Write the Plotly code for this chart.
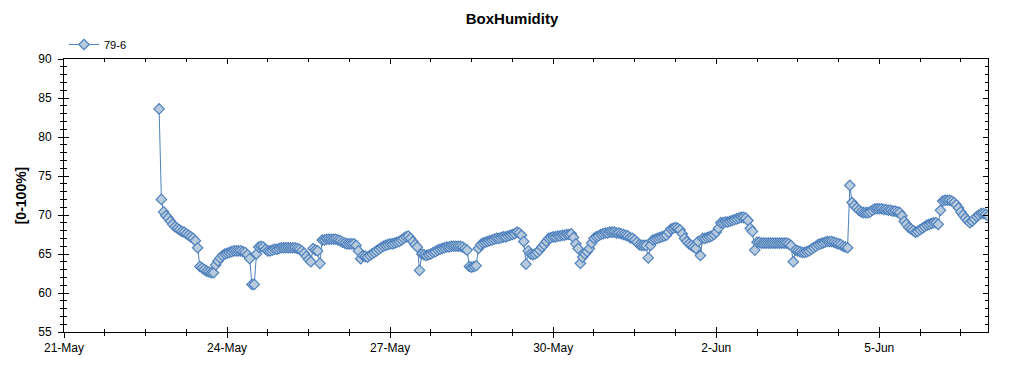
import pandas as pd
import plotly.graph_objects as go

series_name = "79-6"
chart_title = "BoxHumidity"
y_title = "[0-100%]"

# hourly readings, first reading at 22-May 18:00
start_time = "2023-05-22 18:00"
may22 = [83.6, 72.0, 70.4, 69.9, 69.6, 69.2]
may23 = [68.8, 68.5, 68.3, 68.1, 67.9, 67.8, 67.6, 67.4, 67.2, 67.0, 66.7, 65.8,
         63.4, 63.2, 63.0, 62.8, 62.7, 62.6, 62.6, 63.6, 64.1, 64.5, 64.8, 65.0]
may24 = [65.1, 65.2, 65.3, 65.4, 65.4, 65.4, 65.4, 65.3, 65.2, 64.9, 64.4, 61.1,
         61.1, 65.0, 65.9, 66.0, 65.9, 65.6, 65.4, 65.4, 65.5, 65.6, 65.6, 65.7]
may25 = [65.8, 65.8, 65.8, 65.8, 65.8, 65.8, 65.8, 65.7, 65.6, 65.4, 65.1, 64.7,
         64.3, 64.0, 65.7, 65.5, 65.4, 63.8, 66.8, 66.8, 66.9, 66.9, 66.9, 66.9]
may26 = [66.9, 66.8, 66.7, 66.5, 66.4, 66.3, 66.3, 66.3, 66.3, 66.1, 65.4, 64.4,
         64.8, 64.7, 64.6, 64.8, 65.0, 65.2, 65.4, 65.6, 65.8, 66.0, 66.1, 66.2]
may27 = [66.3, 66.3, 66.4, 66.5, 66.6, 66.8, 67.0, 67.2, 67.3, 67.0, 66.6, 66.2,
         65.9, 62.9, 65.0, 64.9, 64.8, 64.9, 65.0, 65.2, 65.3, 65.5, 65.6, 65.7]
may28 = [65.8, 65.9, 65.9, 66.0, 66.0, 66.0, 66.0, 66.0, 65.9, 65.7, 65.5, 63.4,
         63.3, 63.4, 63.5, 65.7, 66.2, 66.4, 66.5, 66.6, 66.7, 66.8, 66.9, 67.0]
may29 = [67.0, 67.1, 67.2, 67.2, 67.3, 67.4, 67.5, 67.6, 67.8, 67.7, 67.4, 66.6,
         63.7, 65.4, 65.0, 64.9, 65.0, 65.2, 65.5, 65.9, 66.2, 66.6, 67.0, 67.1]
may30 = [67.2, 67.2, 67.3, 67.3, 67.4, 67.4, 67.5, 67.5, 67.6, 67.1, 66.3, 65.7,
         63.8, 64.6, 65.0, 65.3, 65.7, 66.4, 67.0, 67.2, 67.3, 67.5, 67.6, 67.7]
may31 = [67.7, 67.8, 67.8, 67.8, 67.7, 67.7, 67.6, 67.5, 67.4, 67.3, 67.1, 67.0,
         66.8, 66.5, 66.2, 66.1, 66.1, 66.1, 64.5, 66.1, 66.8, 66.9, 67.0, 67.1]
jun01 = [67.2, 67.3, 67.4, 67.8, 68.2, 68.3, 68.4, 68.3, 68.1, 67.6, 67.0, 66.6,
         66.3, 66.1, 65.9, 65.7, 66.6, 64.8, 67.0, 67.0, 67.1, 67.2, 67.3, 67.5]
jun02 = [67.8, 68.3, 69.0, 69.0, 69.1, 69.1, 69.2, 69.3, 69.4, 69.5, 69.6, 69.7,
         69.7, 69.6, 69.3, 68.3, 67.9, 65.5, 66.5, 66.5, 66.4, 66.4, 66.4, 66.4]
jun03 = [66.4, 66.4, 66.4, 66.4, 66.4, 66.4, 66.4, 66.4, 66.3, 66.1, 64.0, 65.5,
         65.4, 65.3, 65.2, 65.2, 65.3, 65.4, 65.6, 65.8, 66.0, 66.2, 66.3, 66.4]
jun04 = [66.5, 66.6, 66.6, 66.6, 66.5, 66.4, 66.3, 66.2, 66.0, 65.9, 65.8, 73.8,
         71.6, 71.2, 70.9, 70.6, 70.4, 70.3, 70.3, 70.3, 70.4, 70.6, 70.8, 70.8]
jun05 = [70.8, 70.8, 70.7, 70.7, 70.6, 70.6, 70.5, 70.5, 70.4, 70.3, 69.9, 69.2,
         68.8, 68.4, 68.2, 68.0, 67.8, 67.9, 68.1, 68.3, 68.5, 68.7, 68.8, 68.9]
jun06 = [69.0, 69.0, 68.8, 70.6, 71.8, 71.9, 71.9, 71.9, 71.8, 71.6, 71.3, 70.9,
         70.4, 70.0, 69.6, 69.3, 69.0, 69.2, 69.5, 69.8, 70.0, 70.2, 70.2, 70.1]
jun07 = [69.9]

humidity = (may22 + may23 + may24 + may25 + may26 + may27 + may28 + may29 + may30
            + may31 + jun01 + jun02 + jun03 + jun04 + jun05 + jun06 + jun07)
times = pd.date_range(start=start_time, periods=len(humidity), freq="h")

x_range = ["2023-05-21 00:00", "2023-06-07 00:00"]
y_range = [55, 90]

LINE_BLUE = "#4F81BD"
FILL_BLUE = "#B7CBDD"
FONT = "Liberation Sans, Arial, sans-serif"

fig = go.Figure()
fig.add_trace(go.Scatter(
    x=times, y=humidity, name=series_name, mode="lines+markers",
    line=dict(color=LINE_BLUE, width=1),
    marker=dict(symbol="diamond", size=8, color=FILL_BLUE,
                line=dict(color=LINE_BLUE, width=1.2)),
    xaxis="x", yaxis="y",
))
# empty traces so the overlay axes (inside ticks / frame) get drawn
for xa, ya in [("x2", "y"), ("x3", "y"), ("x", "y2"), ("x", "y3")]:
    fig.add_trace(go.Scatter(x=[None], y=[None], xaxis=xa, yaxis=ya,
                             showlegend=False, hoverinfo="skip"))

DAY = 86400000
xcommon = dict(type="date", range=x_range, tick0="2023-05-21", dtick=3 * DAY,
               showgrid=False, zeroline=False, tickcolor="black", tickwidth=1)
ycommon = dict(range=y_range, tick0=55, dtick=5, showgrid=False,
               zeroline=False, tickcolor="black", tickwidth=1)
xminor_out = dict(ticks="outside", ticklen=3, dtick=DAY * 0.75,
                  tick0="2023-05-21", tickcolor="black", showgrid=False)
xminor_in = dict(ticks="inside", ticklen=3, dtick=DAY * 0.75,
                 tick0="2023-05-21", tickcolor="black", showgrid=False)
yminor_out = dict(ticks="outside", ticklen=3, dtick=1, tick0=55,
                  tickcolor="black", showgrid=False)
yminor_in = dict(ticks="inside", ticklen=3, dtick=1, tick0=55,
                 tickcolor="black", showgrid=False)

# page body has an 8px margin; figure sized to fit inside 1024x375
W, H = 1008, 359
fig.update_layout(
    width=W, height=H, autosize=False,
    paper_bgcolor="white", plot_bgcolor="white",
    margin=dict(l=53, r=28, t=51, b=28),
    font=dict(family=FONT, size=12, color="black"),
    title=dict(text="<b>" + chart_title + "</b>", x=0.5, xanchor="center",
               y=1 - 11 / H, yanchor="middle",
               font=dict(family=FONT, size=15, color="black")),
    showlegend=True,
    legend=dict(x=0, xanchor="left", y=1.0, yanchor="bottom",
                font=dict(family=FONT, size=11), bgcolor="rgba(0,0,0,0)",
                itemwidth=30),
    xaxis=dict(**xcommon, showline=True, linecolor="black", linewidth=1,
               ticks="outside", ticklen=5, tickformat="%-d-%b",
               minor=xminor_out, tickfont=dict(family=FONT, size=12),
               anchor="y"),
    xaxis2=dict(**xcommon, overlaying="x", anchor="y", side="bottom",
                showline=False, ticks="inside", ticklen=5,
                showticklabels=False, minor=xminor_in),
    xaxis3=dict(**xcommon, overlaying="x", anchor="y", side="top",
                showline=True, linecolor="black", linewidth=1,
                ticks="inside", ticklen=5, showticklabels=False,
                minor=xminor_in),
    yaxis=dict(**ycommon, showline=True, linecolor="black", linewidth=1,
               ticks="outside", ticklen=5, ticklabelstandoff=4,
               minor=yminor_out, tickfont=dict(family=FONT, size=12),
               title=dict(text="<b>" + y_title + "</b>", standoff=8,
                          font=dict(family=FONT, size=14)),
               anchor="x"),
    yaxis2=dict(**ycommon, overlaying="y", anchor="x", side="left",
                showline=False, ticks="inside", ticklen=5,
                showticklabels=False, minor=yminor_in),
    yaxis3=dict(**ycommon, overlaying="y", anchor="x", side="right",
                showline=True, linecolor="black", linewidth=1,
                ticks="inside", ticklen=5, showticklabels=False,
                minor=yminor_in),
)

fig.write_html("out.html")
